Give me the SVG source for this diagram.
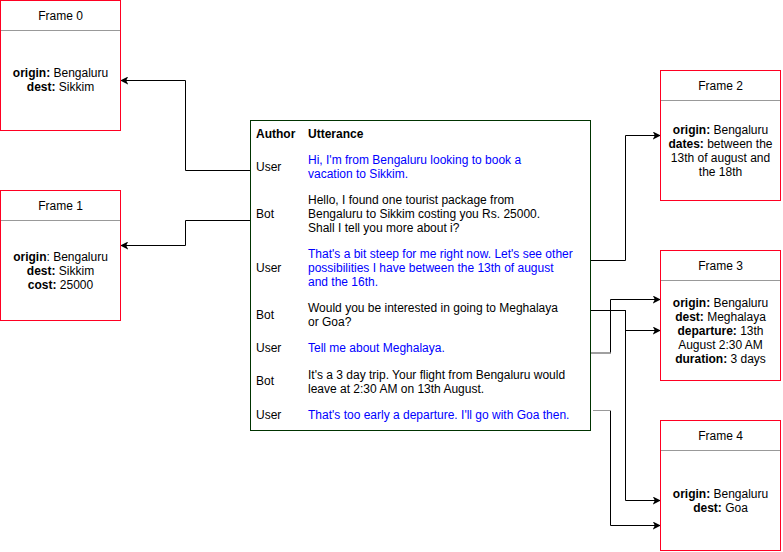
<svg xmlns="http://www.w3.org/2000/svg" width="783" height="552" viewBox="0 0 783 552">
<defs>
<marker id="arr" viewBox="0 0 10 10" refX="9" refY="5" markerWidth="8" markerHeight="8" markerUnits="userSpaceOnUse" orient="auto">
<path d="M0,0 L10,5 L0,10 L2.5,5 Z" fill="#000"/>
</marker>
<style>
text{font-family:"Liberation Sans",Arial,sans-serif;font-size:12px;fill:#000}
.c{text-anchor:middle}
.b{font-weight:bold}
.u{fill:#0000ff}
.frame{fill:#fff;stroke:#ff0022;stroke-width:1}
.sep{stroke:#999;stroke-width:1}
.edge{fill:none;stroke:#000;stroke-width:1}
</style>
</defs>
<rect width="783" height="552" fill="#fff"/>

<g id="connectors">
<polyline class="edge" points="250,170.5 185.5,170.5 185.5,80.5 121,80.5" marker-end="url(#arr)"/>
<polyline class="edge" points="250,220.5 185.5,220.5 185.5,245.5 121,245.5" marker-end="url(#arr)"/>
<polyline class="edge" points="591,260.5 625.5,260.5 625.5,135.5 660,135.5" marker-end="url(#arr)"/>
<polyline class="edge" points="591,310.5 625.5,310.5 625.5,330.5 660,330.5" marker-end="url(#arr)"/>
<polyline class="edge" points="591,310.5 625.5,310.5 625.5,500.5 660,500.5" marker-end="url(#arr)"/>
<polyline class="edge" points="610.5,353 610.5,299.5 660,299.5" marker-end="url(#arr)"/>
<line x1="591" y1="353" x2="611" y2="353" stroke="#808080" stroke-width="1.5"/>
<polyline class="edge" points="610.5,410.5 610.5,525.5 660,525.5" marker-end="url(#arr)"/>
<line x1="593" y1="410.5" x2="611" y2="410.5" stroke="#999" stroke-width="1"/>
</g>

<g id="frame0">
<rect class="frame" x="0.5" y="0.5" width="120" height="130"/>
<line class="sep" x1="1" y1="30.5" x2="120" y2="30.5"/>
<text class="c" x="60.5" y="20">Frame 0</text>
<text class="c" x="60.5" y="77"><tspan class="b">origin:</tspan> Bengaluru</text>
<text class="c" x="60.5" y="91"><tspan class="b">dest:</tspan> Sikkim</text>
</g>

<g id="frame1">
<rect class="frame" x="0.5" y="190.5" width="120" height="130"/>
<line class="sep" x1="1" y1="220.5" x2="120" y2="220.5"/>
<text class="c" x="60.5" y="210">Frame 1</text>
<text class="c" x="60.5" y="261"><tspan class="b">origin</tspan>: Bengaluru</text>
<text class="c" x="60.5" y="275"><tspan class="b">dest:</tspan> Sikkim</text>
<text class="c" x="60.5" y="289"><tspan class="b">cost:</tspan> 25000</text>
</g>

<g id="frame2">
<rect class="frame" x="660.5" y="70.5" width="120" height="130"/>
<line class="sep" x1="661" y1="100.5" x2="780" y2="100.5"/>
<text class="c" x="720.5" y="90">Frame 2</text>
<text class="c" x="720.5" y="134"><tspan class="b">origin:</tspan> Bengaluru</text>
<text class="c" x="720.5" y="148"><tspan class="b">dates:</tspan> between the</text>
<text class="c" x="720.5" y="162">13th of august and</text>
<text class="c" x="720.5" y="176">the 18th</text>
</g>

<g id="frame3">
<rect class="frame" x="660.5" y="250.5" width="120" height="130"/>
<line class="sep" x1="661" y1="280.5" x2="780" y2="280.5"/>
<text class="c" x="720.5" y="270">Frame 3</text>
<text class="c" x="720.5" y="307"><tspan class="b">origin:</tspan> Bengaluru</text>
<text class="c" x="720.5" y="321"><tspan class="b">dest:</tspan> Meghalaya</text>
<text class="c" x="720.5" y="335"><tspan class="b">departure:</tspan> 13th</text>
<text class="c" x="720.5" y="349">August 2:30 AM</text>
<text class="c" x="720.5" y="363"><tspan class="b">duration:</tspan> 3 days</text>
</g>

<g id="frame4">
<rect class="frame" x="660.5" y="420.5" width="120" height="130"/>
<line class="sep" x1="661" y1="450.5" x2="780" y2="450.5"/>
<text class="c" x="720.5" y="440">Frame 4</text>
<text class="c" x="720.5" y="498"><tspan class="b">origin:</tspan> Bengaluru</text>
<text class="c" x="720.5" y="512"><tspan class="b">dest:</tspan> Goa</text>
</g>

<g id="utterances">
<rect x="250.5" y="120.5" width="340" height="310" fill="#fff" stroke="#003300" stroke-width="1"/>
<text class="b" x="256" y="138">Author</text>
<text class="b" x="308" y="138">Utterance</text>

<text x="256" y="171">User</text>
<text class="u" x="308" y="164">Hi, I'm from Bengaluru looking to book a</text>
<text class="u" x="308" y="178">vacation to Sikkim.</text>

<text x="256" y="218">Bot</text>
<text x="308" y="204">Hello, I found one tourist package from</text>
<text x="308" y="218">Bengaluru to Sikkim costing you Rs. 25000.</text>
<text x="308" y="232">Shall I tell you more about i?</text>

<text x="256" y="272">User</text>
<text class="u" x="308" y="258">That's a bit steep for me right now. Let's see other</text>
<text class="u" x="308" y="272">possibilities I have between the 13th of august</text>
<text class="u" x="308" y="286">and the 16th.</text>

<text x="256" y="319">Bot</text>
<text x="308" y="312">Would you be interested in going to Meghalaya</text>
<text x="308" y="326">or Goa?</text>

<text x="256" y="352">User</text>
<text class="u" x="308" y="352">Tell me about Meghalaya.</text>

<text x="256" y="385">Bot</text>
<text x="308" y="379">It's a 3 day trip. Your flight from Bengaluru would</text>
<text x="308" y="393">leave at 2:30 AM on 13th August.</text>

<text x="256" y="419">User</text>
<text class="u" x="308" y="419">That's too early a departure. I'll go with Goa then.</text>
</g>
</svg>
